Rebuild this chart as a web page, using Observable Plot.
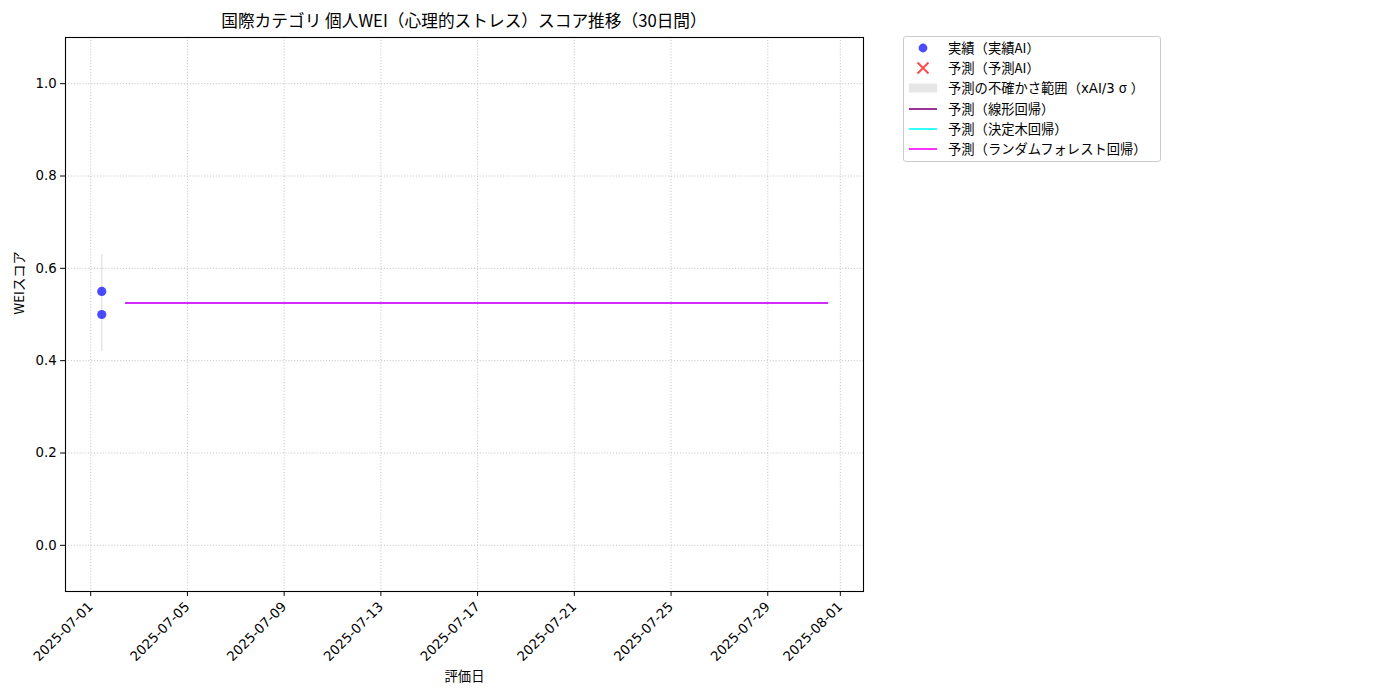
<!DOCTYPE html>
<html>
<head>
<meta charset="utf-8">
<script src="https://cdn.jsdelivr.net/npm/d3@7"></script>
<script src="https://cdn.jsdelivr.net/npm/@observablehq/plot@0.6"></script>
<style>
  html, body { margin: 0; padding: 0; background: #fff; }
  body { width: 1400px; height: 700px; overflow: hidden; font-family: "Noto Sans CJK JP", "Noto Sans", sans-serif; color: #000; }
  #title { width: 880px; height: 30px; box-sizing: border-box; padding: 11px 17px 0 65px; text-align: center; font-size: 16.7px; line-height: 19px; white-space: nowrap; }
  #row { display: flex; flex-direction: row; align-items: flex-start; }
  #legend { margin-left: 23px; margin-top: 6px; width: 258px; height: 126px; box-sizing: border-box; border: 1px solid #cccccc; border-radius: 3px; padding-top: 1px; font-size: 13.3px; }
  .item { display: flex; align-items: center; height: 20.2px; }
  .item svg { width: 30px; height: 14px; margin-left: 4px; margin-right: 10px; flex: none; }
  .item span { white-space: nowrap; line-height: 20px; }
  .lat { font-family: "DejaVu Sans", sans-serif; font-size: 13.3px; }
  .sig { display: inline-block; width: 16px; text-align: center; }
</style>
</head>
<body>
<div id="title">国際カテゴリ 個人WEI（心理的ストレス）スコア推移（30日間）</div>
<div id="row">
  <div id="chart"></div>
  <div id="legend">
    <div class="item"><svg viewBox="0 0 30 14"><circle cx="15" cy="7" r="4.4" fill="blue" fill-opacity="0.7"/></svg><span>実績（実績AI）</span></div>
    <div class="item"><svg viewBox="0 0 30 14"><path d="M9.5 1.5 L20.5 12.5 M20.5 1.5 L9.5 12.5" stroke="red" stroke-opacity="0.7" stroke-width="2"/></svg><span>予測（予測AI）</span></div>
    <div class="item"><svg viewBox="0 0 30 14"><rect x="1" y="2.5" width="28" height="9" fill="gray" fill-opacity="0.2"/></svg><span>予測の不確かさ範囲（<span class="lat">xAI/3</span><span class="sig">σ</span>）</span></div>
    <div class="item"><svg viewBox="0 0 30 14"><line x1="1" y1="7" x2="29" y2="7" stroke="purple" stroke-opacity="0.8" stroke-width="2"/></svg><span>予測（線形回帰）</span></div>
    <div class="item"><svg viewBox="0 0 30 14"><line x1="1" y1="7" x2="29" y2="7" stroke="cyan" stroke-opacity="0.8" stroke-width="2"/></svg><span>予測（決定木回帰）</span></div>
    <div class="item"><svg viewBox="0 0 30 14"><line x1="1" y1="7" x2="29" y2="7" stroke="magenta" stroke-opacity="0.8" stroke-width="2"/></svg><span>予測（ランダムフォレスト回帰）</span></div>
  </div>
</div>
<script>
// ---- data ----
const actualDates = ["2025-07-01T11:00:00Z", "2025-07-01T11:00:00Z"];
const actualScores = [0.55, 0.50];

const bandDates = ["2025-07-01T11:00:00Z"];
const bandLow = [0.42];
const bandHigh = [0.63];

const forecastDates = [
  "2025-07-02T11:00:00Z","2025-07-03T11:00:00Z","2025-07-04T11:00:00Z","2025-07-05T11:00:00Z",
  "2025-07-06T11:00:00Z","2025-07-07T11:00:00Z","2025-07-08T11:00:00Z","2025-07-09T11:00:00Z",
  "2025-07-10T11:00:00Z","2025-07-11T11:00:00Z","2025-07-12T11:00:00Z","2025-07-13T11:00:00Z",
  "2025-07-14T11:00:00Z","2025-07-15T11:00:00Z","2025-07-16T11:00:00Z","2025-07-17T11:00:00Z",
  "2025-07-18T11:00:00Z","2025-07-19T11:00:00Z","2025-07-20T11:00:00Z","2025-07-21T11:00:00Z",
  "2025-07-22T11:00:00Z","2025-07-23T11:00:00Z","2025-07-24T11:00:00Z","2025-07-25T11:00:00Z",
  "2025-07-26T11:00:00Z","2025-07-27T11:00:00Z","2025-07-28T11:00:00Z","2025-07-29T11:00:00Z",
  "2025-07-30T11:00:00Z","2025-07-31T11:00:00Z"
];
const linearPred = [0.525,0.525,0.525,0.525,0.525,0.525,0.525,0.525,0.525,0.525,0.525,0.525,0.525,0.525,0.525,0.525,0.525,0.525,0.525,0.525,0.525,0.525,0.525,0.525,0.525,0.525,0.525,0.525,0.525,0.525];
const treePred   = [0.525,0.525,0.525,0.525,0.525,0.525,0.525,0.525,0.525,0.525,0.525,0.525,0.525,0.525,0.525,0.525,0.525,0.525,0.525,0.525,0.525,0.525,0.525,0.525,0.525,0.525,0.525,0.525,0.525,0.525];
const rfPred     = [0.525,0.525,0.525,0.525,0.525,0.525,0.525,0.525,0.525,0.525,0.525,0.525,0.525,0.525,0.525,0.525,0.525,0.525,0.525,0.525,0.525,0.525,0.525,0.525,0.525,0.525,0.525,0.525,0.525,0.525];

const xTickLabels = ["2025-07-01","2025-07-05","2025-07-09","2025-07-13","2025-07-17","2025-07-21","2025-07-25","2025-07-29","2025-08-01"];
const yTicks = [0.0, 0.2, 0.4, 0.6, 0.8, 1.0];

const xLabel = "評価日";
const yLabel = "WEIスコア";

// ---- tables ----
const actual = actualDates.map((d, i) => ({date: new Date(d), score: actualScores[i]}));
const band = bandDates.map((d, i) => ({date: new Date(d), lo: bandLow[i], hi: bandHigh[i]}));
const fc = (vals) => forecastDates.map((d, i) => ({date: new Date(d), score: vals[i]}));
const xTicks = xTickLabels.map(s => new Date(s + "T00:00:00Z"));

const grid = {stroke: "#b0b0b0", strokeOpacity: 0.8, strokeWidth: 0.9, strokeDasharray: "1.1,1.8"};
const tickFont = "'DejaVu Sans', sans-serif";

const chart = Plot.plot({
  width: 880,
  height: 670,
  marginLeft: 65,
  marginRight: 17,
  marginTop: 7,
  marginBottom: 109,
  style: {fontFamily: "'Noto Sans CJK JP', 'Noto Sans', sans-serif", fontSize: "13.3px", background: "#fff", color: "#000"},
  x: {type: "utc", domain: [new Date("2025-06-29T23:00:00Z"), new Date("2025-08-01T23:00:00Z")]},
  y: {domain: [-0.1, 1.1]},
  marks: [
    Plot.gridX(xTicks, grid),
    Plot.gridY(yTicks, grid),
    Plot.ruleX(band, {x: "date", y1: "lo", y2: "hi", stroke: "gray", strokeOpacity: 0.2, strokeWidth: 1.5}),
    Plot.line(fc(linearPred), {x: "date", y: "score", stroke: "purple", strokeOpacity: 0.8, strokeWidth: 2}),
    Plot.line(fc(treePred), {x: "date", y: "score", stroke: "cyan", strokeOpacity: 0.8, strokeWidth: 2}),
    Plot.line(fc(rfPred), {x: "date", y: "score", stroke: "magenta", strokeOpacity: 0.8, strokeWidth: 2}),
    Plot.dot(actual, {x: "date", y: "score", r: 4.6, fill: "blue", fillOpacity: 0.7, stroke: "none"}),
    Plot.axisX(xTicks, {tickFormat: d3.utcFormat("%Y-%m-%d"), tickRotate: -45, tickSize: 4.9, tickPadding: 8, label: null, fontSize: 13.3, fontFamily: tickFont}),
    Plot.axisY(yTicks, {tickFormat: d3.format(".1f"), tickSize: 4.9, tickPadding: 4, label: null, fontSize: 13.3, fontFamily: tickFont}),
    Plot.frame({stroke: "black", strokeWidth: 1.1}),
    Plot.text([xLabel], {text: d => d, frameAnchor: "bottom", dy: 89, fontSize: 13.3}),
    Plot.text([yLabel], {text: d => d, frameAnchor: "left", dx: -46, rotate: -90, fontSize: 13.3})
  ]
});
document.getElementById("chart").appendChild(chart);
</script>
</body>
</html>
